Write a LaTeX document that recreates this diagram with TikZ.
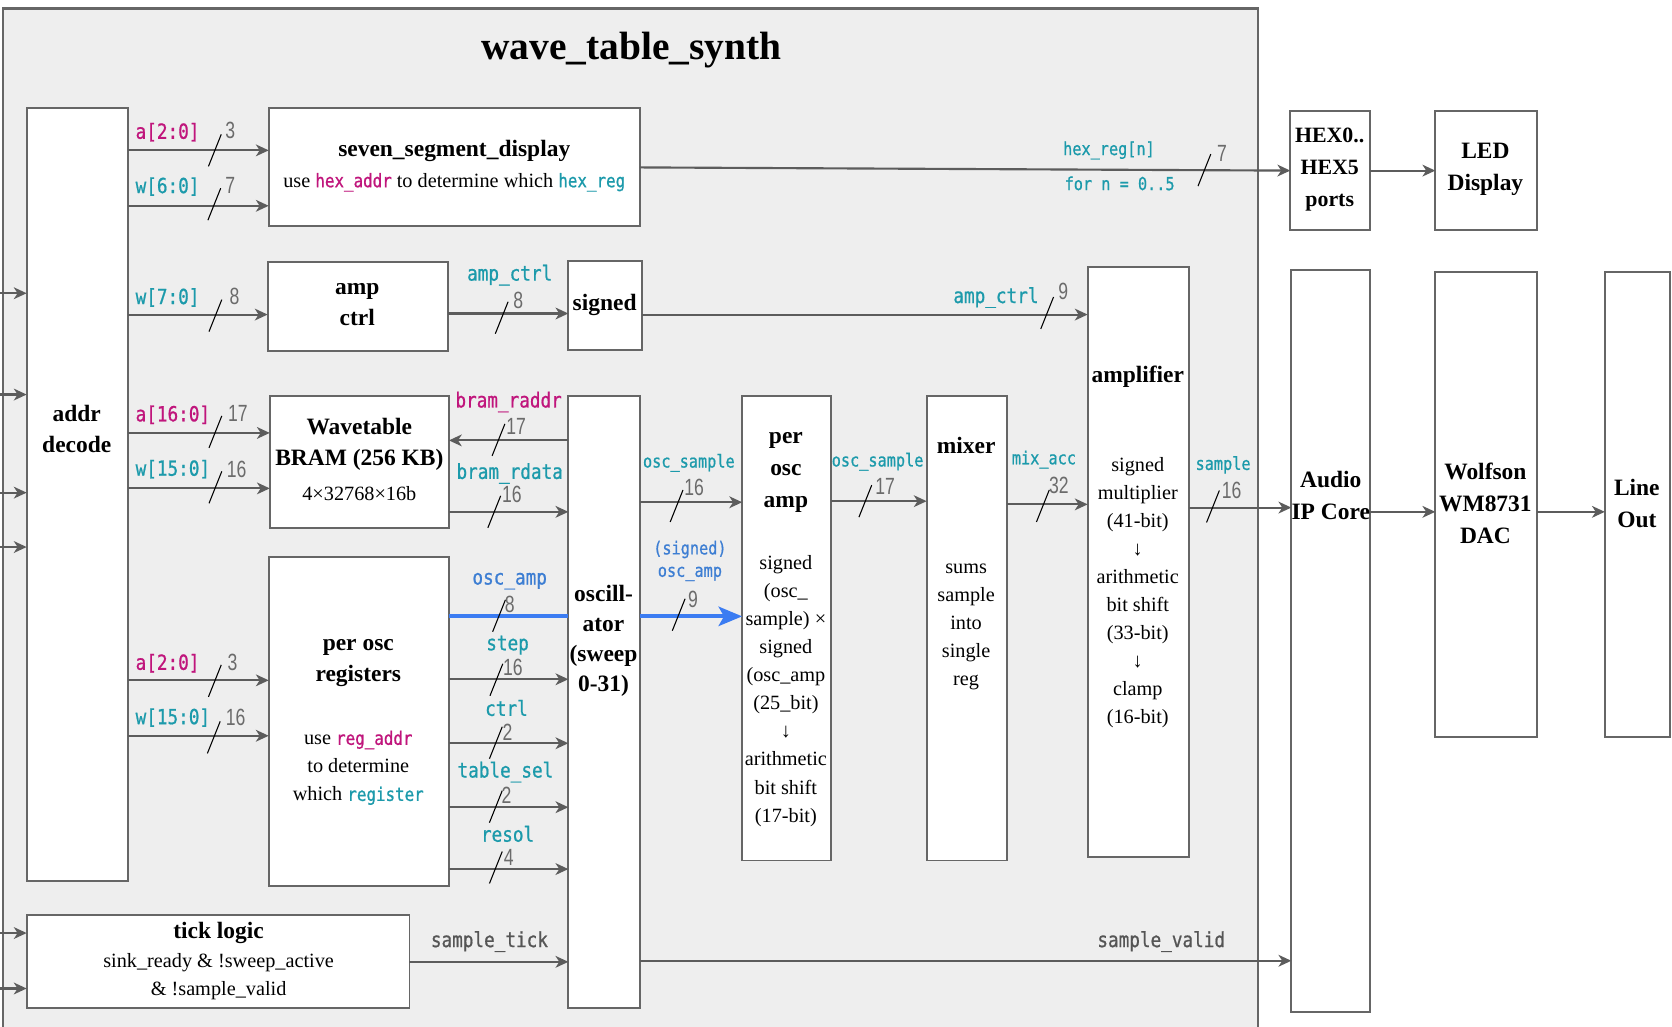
\documentclass[tikz,border=0pt]{standalone}
\usepackage{fontspec}
\setmainfont{Liberation Serif}
\newfontfamily\monofam[FakeStretch=0.85,FakeBold=0.8]{DejaVu Sans Mono}
\newfontfamily\numfam[FakeStretch=0.75]{Liberation Sans}
\usetikzlibrary{arrows.meta,calc}
\definecolor{bggray}{HTML}{EEEEEE}
\definecolor{bordergray}{HTML}{666666}
\definecolor{linegray}{HTML}{5C5C5C}
\definecolor{numgray}{HTML}{6B6B6B}
\definecolor{sigmag}{HTML}{C0157C}
\definecolor{sigteal}{HTML}{1C9AAB}
\definecolor{sigblue}{HTML}{3D7ED3}
\definecolor{lineblue}{HTML}{3B7CF2}
\definecolor{txtgray}{HTML}{555555}
\newcommand\fbold{\fontsize{22}{29}\selectfont\bfseries}
\newcommand\freg{\fontsize{19}{26.3}\selectfont}
\newcommand\fmonoL{\fontsize{19.5}{22}\selectfont\monofam}
\newcommand\fmonoS{\fontsize{16.8}{21}\selectfont\monofam}
\newcommand\fnum{\fontsize{22}{24}\selectfont\numfam}
\newcommand\mg[1]{{\color{sigmag}\fontsize{17.5}{26}\selectfont\monofam #1}}
\newcommand\tl[1]{{\color{sigteal}\fontsize{17.5}{26}\selectfont\monofam #1}}
\newcommand\blk[5]{\node[blk, minimum width={(#4-#2)*1pt}, minimum height={(#5-#3)*1pt}] (#1) at ({(#2+#4)/2},{(#3+#5)/2}) {};}
\newcommand\bus[6]{\draw[slashln] ({#2-6},{#3+15}) -- ({#2+6},{#3-15}); \node[numlbl] (#1) at (#5,#6) {#4};}
\tikzset{
  blk/.style={draw=bordergray, fill=white, line width=1.8pt, inner sep=0pt, outer sep=0pt},
  arr/.style={draw=linegray, line width=2pt, -{Stealth[length=12pt,width=11pt,inset=3.5pt]}},
  slashln/.style={draw=black, line width=1pt},
  numlbl/.style={text=numgray, font=\fnum, inner sep=0pt},
  lblL/.style={font=\fmonoL, inner sep=0pt},
  lblS/.style={font=\fmonoS, inner sep=0pt, align=center},
  ttl/.style={font=\fbold, align=center, inner sep=0pt},
  txt/.style={font=\freg, align=center, inner sep=0pt},
}
\begin{document}
\begin{tikzpicture}[x=1pt,y=-1pt]
\useasboundingbox (0,0) rectangle (1568,963);
\clip (0,0) rectangle (1568,963);
\fill[white] (0,0) rectangle (1568,963);
\draw[draw=bordergray, fill=bggray, line width=2pt] (3,8) rectangle (1180,1000);
\node[font=\fontsize{37}{40}\selectfont\bfseries, inner sep=0pt] (title) at (592,47) {wave\_table\_synth};

% boxes
\blk{addr}{25}{101}{120}{826}
\blk{seg}{252}{101}{600}{212}
\blk{ampc}{251}{246}{420}{329}
\blk{sgn}{533}{245}{602}{328}
\blk{bram}{253}{371}{421}{495}
\blk{regs}{252}{522}{421}{831}
\blk{tick}{25}{858}{384}{945}
\blk{osc}{533}{371}{600}{945}
\blk{pamp}{696}{371}{779}{807}
\blk{mix}{869}{371}{944}{807}
\blk{ampl}{1020}{250}{1115}{804}
\blk{hex}{1210}{104}{1285}{216}
\blk{led}{1346}{104}{1441}{216}
\blk{aud}{1211}{253}{1285}{949}
\blk{dac}{1346}{255}{1441}{691}
\blk{lout}{1505}{255}{1566}{691}

% box texts
\node[ttl] (taddr) at (72,402) {addr\\decode};
\node[ttl] (tseg) at (426,142) {seven\_segment\_display};
\node[txt] (dseg) at (426,171) {use \mg{hex\_addr} to determine which \tl{hex\_reg}};
\node[ttl] (tampc) at (335,286) {amp\\ctrl};
\node[ttl] (tsgn) at (567,286) {signed};
\node[ttl] (tbram) at (337,417) {Wavetable\\BRAM (256 KB)};
\node[txt] (dbram) at (337,463) {4×32768×16b};
\node[ttl] (tregs) at (336,622) {per osc\\registers};
\node[txt] (dregs) at (336,720) {use \mg{reg\_addr}\\to determine\\which \tl{register}};
\node[ttl] (ttick) at (205,875) {tick logic};
\node[txt] (dtick) at (205,916) {sink\_ready \& !sweep\_active\\\& !sample\_valid};
\node[ttl, font=\fontsize{22}{28}\selectfont\bfseries] (tosc) at (566,601) {oscill-\\ator\\(sweep\\0-31)};
\node[ttl, font=\fontsize{22}{30}\selectfont\bfseries] (tpamp) at (737,443) {per\\osc\\amp};
\node[txt] (dpamp) at (737,648) {signed\\(osc\_\\sample) ×\\signed\\(osc\_amp\\(25\_bit)\\↓\\arithmetic\\bit shift\\(17-bit)};
\node[ttl] (tmix) at (906,418) {mixer};
\node[txt] (dmix) at (906,588) {sums\\sample\\into\\single\\reg};
\node[ttl] (tampl) at (1067,353) {amplifier};
\node[txt] (dampl) at (1067,556) {signed\\multiplier\\(41-bit)\\↓\\arithmetic\\bit shift\\(33-bit)\\↓\\clamp\\(16-bit)};
\node[ttl, font=\fontsize{20.5}{30}\selectfont\bfseries] (thex) at (1247,159) {HEX0..\\HEX5\\ports};
\node[ttl, font=\fontsize{22}{30}\selectfont\bfseries] (tled) at (1393,159) {LED\\Display};
\node[ttl, font=\fontsize{22}{30}\selectfont\bfseries] (taud) at (1248,465) {Audio\\IP Core};
\node[ttl, font=\fontsize{22}{30}\selectfont\bfseries] (tdac) at (1393,472) {Wolfson\\WM8731\\DAC};
\node[ttl, font=\fontsize{22}{30}\selectfont\bfseries] (tlout) at (1535,472) {Line\\Out};

% incoming arrows
\coordinate (in1) at (0,275);
\coordinate (in2) at (0,370);
\coordinate (in3) at (0,462);
\coordinate (in4) at (0,513);
\coordinate (in5) at (0,875);
\coordinate (in6) at (0,927);
\draw[arr] (in1) -- (addr.west |- in1);
\draw[arr] (in2) -- (addr.west |- in2);
\draw[arr] (in3) -- (addr.west |- in3);
\draw[arr] (in4) -- (addr.west |- in4);
\draw[arr] (in5) -- (tick.west |- in5);
\draw[arr] (in6) -- (tick.west |- in6);

% addr decode outputs
\draw[arr] (addr.east |- 0,141) -- (seg.west |- 0,141);
\draw[arr] (addr.east |- 0,193) -- (seg.west |- 0,193);
\draw[arr] (addr.east |- 0,295) -- (ampc.west |- 0,295);
\draw[arr] (addr.east |- 0,406) -- (bram.west |- 0,406);
\draw[arr] (addr.east |- 0,458) -- (bram.west |- 0,458);
\draw[arr] (addr.east |- 0,638) -- (regs.west |- 0,638);
\draw[arr] (addr.east |- 0,690) -- (regs.west |- 0,690);
\node[lblL, text=sigmag, anchor=west] (la1) at (127,124) {a[2:0]};
\node[lblL, text=sigteal, anchor=west] (la2) at (127,175) {w[6:0]};
\node[lblL, text=sigteal, anchor=west] (la3) at (127,279) {w[7:0]};
\node[lblL, text=sigmag, anchor=west] (la4) at (127,389) {a[16:0]};
\node[lblL, text=sigteal, anchor=west] (la5) at (127,440) {w[15:0]};
\node[lblL, text=sigmag, anchor=west] (la6) at (127,622) {a[2:0]};
\node[lblL, text=sigteal, anchor=west] (la7) at (127,673) {w[15:0]};
\bus{b1}{201.5}{141}{3}{216}{122}
\bus{b2}{201}{191.5}{7}{216}{174}
\bus{b3}{202}{296}{8}{220}{278}
\bus{b7}{202}{405}{17}{223}{388}
\bus{b8}{202}{457}{16}{222}{440}
\bus{b16}{201.5}{638.5}{3}{218}{621}
\bus{b17}{200.5}{691.5}{16}{221}{673}

% seven segment -> HEX -> LED
\draw[arr] (seg.east |- 0,157) -- (hex.west |- 0,160);
\draw[arr] (hex.east |- 0,160) -- (led.west |- 0,160);
\node[lblS, text=sigteal] (lhex1) at (1040,141) {hex\_reg[n]};
\node[lblS, text=sigteal] (lhex2) at (1050,172) {for n = 0..5};
\bus{b5}{1129.5}{159.5}{7}{1146}{144}

% amp ctrl chain
\draw[arr] (ampc.east |- 0,294) -- (sgn.west |- 0,294);
\draw[arr] (sgn.east |- 0,295) -- (ampl.west |- 0,295);
\node[lblL, text=sigteal] (lamp1) at (478,258) {amp\_ctrl};
\node[lblL, text=sigteal] (lamp2) at (934,279) {amp\_ctrl};
\bus{b4}{470.5}{298}{8}{486}{282}
\bus{b6}{982}{293.5}{9}{997}{273}

% bram <-> oscillator
\draw[arr] (osc.west |- 0,413) -- (bram.east |- 0,413);
\draw[arr] (bram.east |- 0,480) -- (osc.west |- 0,480);
\node[lblL, text=sigmag] (lbr1) at (477,377) {bram\_raddr};
\node[lblL, text=sigteal] (lbr2) at (478,444) {bram\_rdata};
\bus{b9}{467.5}{412.5}{17}{484}{400}
\bus{b10}{463.5}{480}{16}{480}{464}

% registers -> oscillator
\draw[draw=lineblue, line width=3.5pt] (regs.east |- 0,578) -- (osc.west |- 0,578);
\draw[arr] (regs.east |- 0,637) -- (osc.west |- 0,637);
\draw[arr] (regs.east |- 0,697) -- (osc.west |- 0,697);
\draw[arr] (regs.east |- 0,757) -- (osc.west |- 0,757);
\draw[arr] (regs.east |- 0,815) -- (osc.west |- 0,815);
\node[lblL, text=sigblue] (lr1) at (478,545) {osc\_amp};
\node[lblL, text=sigteal] (lr2) at (476,605) {step};
\node[lblL, text=sigteal] (lr3) at (475,664) {ctrl};
\node[lblL, text=sigteal] (lr4) at (474,724) {table\_sel};
\node[lblL, text=sigteal] (lr5) at (476,782) {resol};
\bus{b11}{468}{577.5}{8}{478}{567}
\bus{b12}{465.5}{637.5}{16}{481}{626}
\bus{b13}{465}{696.5}{2}{476}{687}
\bus{b14}{465}{756.5}{2}{475}{746}
\bus{b15}{465}{813.5}{4}{477}{804}

% tick logic / sample valid
\draw[arr] (tick.east |- 0,902) -- (osc.west |- 0,902);
\draw[arr] (osc.east |- 0,901) -- (aud.west |- 0,901);
\node[lblL, text=txtgray] (ltick) at (459,883) {sample\_tick};
\node[lblL, text=txtgray] (lvalid) at (1089,883) {sample\_valid};

% datapath
\draw[arr] (osc.east |- 0,471) -- (pamp.west |- 0,471);
\draw[draw=lineblue, line width=4pt, -{Stealth[length=22pt,width=18pt,inset=5pt]}] (osc.east |- 0,578) -- (pamp.west |- 0,578);
\draw[arr] (pamp.east |- 0,470) -- (mix.west |- 0,470);
\draw[arr] (mix.east |- 0,473) -- (ampl.west |- 0,473);
\draw[arr] (ampl.east |- 0,476) -- (aud.west |- 0,476);
\draw[arr] (aud.east |- 0,480) -- (dac.west |- 0,480);
\draw[arr] (dac.east |- 0,480) -- (lout.west |- 0,480);
\node[lblS, text=sigteal] (ld1) at (646,434) {osc\_sample};
\node[lblS, text=sigblue] (ld2) at (647,526) {(signed)\\osc\_amp};
\node[lblS, text=sigteal] (ld3) at (823,433) {osc\_sample};
\node[lblS, text=sigteal] (ld4) at (979,431) {mix\_acc};
\node[lblS, text=sigteal] (ld5) at (1147,436) {sample};
\bus{b18}{634.5}{474.5}{16}{651}{457}
\bus{b19}{636.5}{576.5}{9}{650}{562}
\bus{b20}{811.5}{470}{17}{830}{456}
\bus{b21}{978}{474.5}{32}{993}{455}
\bus{b22}{1137.5}{475}{16}{1155}{460}
\end{tikzpicture}
\end{document}
